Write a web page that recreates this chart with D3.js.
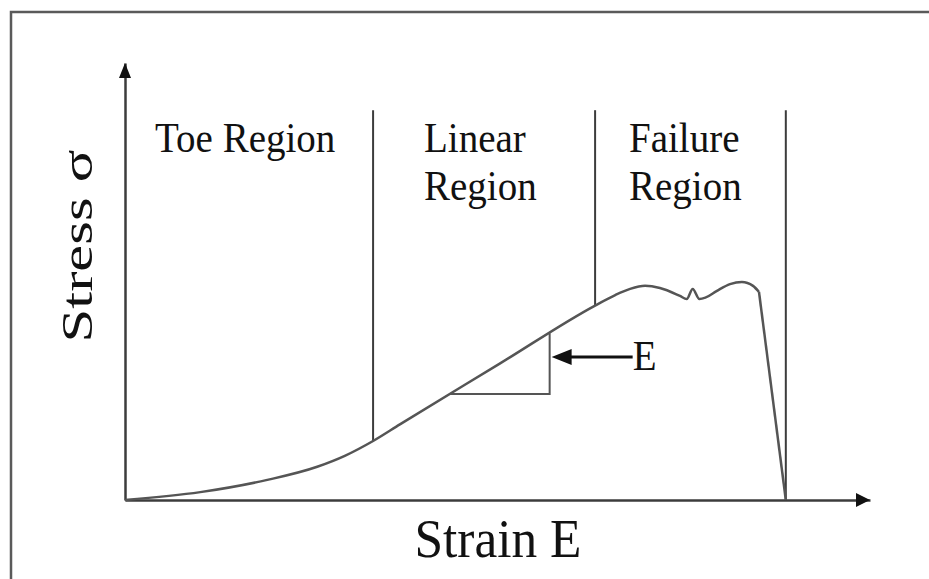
<!DOCTYPE html>
<html>
<head>
<meta charset="utf-8">
<script src="https://cdn.jsdelivr.net/npm/d3@7"></script>
<style>
  html, body { margin: 0; padding: 0; background: #fff; }
  svg { display: block; }
  text { font-family: "Liberation Serif", "DejaVu Serif", serif; fill: #111; }
</style>
</head>
<body>
<div id="chart"></div>
<script>
// stress-strain curve (arbitrary units, 0-100 on both axes)
const strain = [0, 10.1, 19.1, 25.8, 29.5, 33.3, 36.9, 50.3, 63.1, 65.8, 67.8, 69.8, 71.8,
                74.5, 75.4, 76.2, 77.1, 77.9, 79.4, 81.2, 82.8, 84.3, 85.1, 88.7];
const stress = [0, 1.8, 4.6, 7.6, 10.1, 13.5, 17.3, 31.2, 44.5, 46.9, 48.3, 49.0, 48.5,
                46.7, 46.0, 48.3, 46.0, 46.3, 47.8, 49.4, 49.9, 49.0, 47.6, 0];

// region dividers (strain) and their labels
const dividers = [33.3, 63.1, 88.7];
const dividerTop = 89.2;
const regionLabels = [["Toe Region"], ["Linear", "Region"], ["Failure", "Region"]];

// modulus triangle (strain span on the linear part)
const slopeRun = [43.6, 57.0];
const modulusLabel = "E";
const xLabel = "Strain E";
const yLabel = "Stress \u03c3";

const W = 929, H = 579;
const svg = d3.select('#chart').append('svg')
  .attr('width', W).attr('height', H);

const x = d3.scaleLinear().domain([0, 100]).range([125, 870]);
const y = d3.scaleLinear().domain([0, 100]).range([500, 63]);

const ink = '#3c3c3c';
const pts = strain.map((s, i) => ({ s, v: stress[i] }));

function stressAt(s) {
  const i = d3.bisector(d => d.s).right(pts, s);
  if (i <= 0) return pts[0].v;
  if (i >= pts.length) return pts[pts.length - 1].v;
  const a = pts[i - 1], b = pts[i];
  return a.v + (b.v - a.v) * (s - a.s) / (b.s - a.s);
}

// frame (open at right and bottom)
svg.append('path')
  .attr('d', `M11,${H} V12 H${W}`)
  .attr('fill', 'none').attr('stroke', '#5a5a5a').attr('stroke-width', 2.5);

// axes: plain arrows, no ticks
svg.append('g')
  .attr('transform', `translate(0,${y(0)})`)
  .call(d3.axisBottom(x).tickValues([]).tickSizeOuter(0))
  .call(g => g.select('.domain').attr('stroke', ink).attr('stroke-width', 2.5));
svg.append('g')
  .attr('transform', `translate(${x(0)},0)`)
  .call(d3.axisLeft(y).tickValues([]).tickSizeOuter(0))
  .call(g => g.select('.domain').attr('stroke', ink).attr('stroke-width', 2.5));

const xt = x(100), yt = y(100);
svg.append('path')
  .attr('d', `M${xt},${y(0)} L${xt - 14},${y(0) - 7} L${xt - 14},${y(0) + 7} Z`)
  .attr('fill', '#111');
svg.append('path')
  .attr('d', `M${x(0)},${yt} L${x(0) - 6},${yt + 15} L${x(0) + 6},${yt + 15} Z`)
  .attr('fill', '#111');

// region dividers
svg.selectAll('.divider')
  .data(dividers)
  .enter().append('line')
  .attr('class', 'divider')
  .attr('x1', d => x(d)).attr('x2', d => x(d))
  .attr('y1', y(dividerTop))
  .attr('y2', d => y(stressAt(d)))
  .attr('stroke', ink).attr('stroke-width', 2);

// curve: smooth up to the failure corner, then a straight drop
const line = d3.line().x(d => x(d.s)).y(d => y(d.v));
const corner = pts.length - 2;
svg.append('path')
  .datum(pts.slice(0, corner + 1))
  .attr('fill', 'none')
  .attr('stroke', '#555')
  .attr('stroke-width', 2.5)
  .attr('stroke-linejoin', 'round')
  .attr('d', line.curve(d3.curveMonotoneX));
svg.append('path')
  .datum(pts.slice(corner))
  .attr('fill', 'none')
  .attr('stroke', '#555')
  .attr('stroke-width', 2.5)
  .attr('d', line.curve(d3.curveLinear));

// modulus triangle
const t0 = slopeRun[0], t1 = slopeRun[1];
const base = stressAt(t0);
svg.append('path')
  .attr('d', `M${x(t0)},${y(base)} H${x(t1)} V${y(stressAt(t1))}`)
  .attr('fill', 'none').attr('stroke', '#555').attr('stroke-width', 2);

// E arrow
const ax = x(t1) + 2, ay = y(base) - 37;
svg.append('line')
  .attr('x1', ax + 16).attr('x2', ax + 81)
  .attr('y1', ay).attr('y2', ay)
  .attr('stroke', '#111').attr('stroke-width', 3);
svg.append('path')
  .attr('d', `M${ax},${ay} L${ax + 20},${ay - 8} L${ax + 20},${ay + 8} Z`)
  .attr('fill', '#111');
svg.append('text')
  .attr('transform', `translate(${ax + 81},${ay + 13}) scale(1,1.1)`)
  .style('font-size', '39px')
  .text(modulusLabel);

// region labels
const labelX = [155, 424, 629];
regionLabels.forEach((lines, i) => {
  lines.forEach((t, j) => {
    svg.append('text')
      .attr('transform', `translate(${labelX[i]},${152 + j * 48}) scale(1,1.1)`)
      .style('font-size', '39px')
      .text(t);
  });
});

// axis titles
svg.append('text')
  .attr('x', 498).attr('y', 557)
  .attr('text-anchor', 'middle')
  .attr('textLength', 167).attr('lengthAdjust', 'spacingAndGlyphs')
  .style('font-size', '54px')
  .text(xLabel);

svg.append('text')
  .attr('transform', 'translate(92,246) rotate(-90)')
  .attr('text-anchor', 'middle')
  .attr('textLength', 193).attr('lengthAdjust', 'spacingAndGlyphs')
  .style('font-size', '44px')
  .text(yLabel);
</script>
</body>
</html>
